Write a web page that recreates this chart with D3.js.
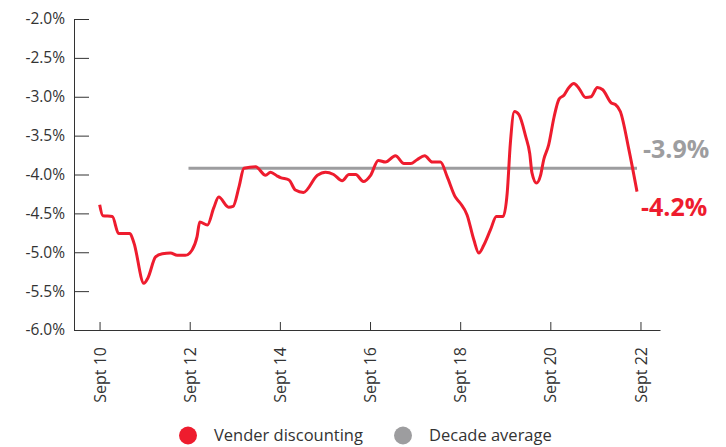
<!DOCTYPE html>
<meta charset="utf-8">
<style>
body { margin: 0; background: #fff; }
svg text { font-family: "Open Sans", sans-serif; fill: #333; }
.axis path, .axis line { stroke: #333; stroke-width: 1px; }
.line-red { fill: none; stroke: #ee1c2e; stroke-width: 3px; stroke-linejoin: round; }
.line-avg { fill: none; stroke: #9d9d9f; stroke-width: 3px; }
</style>
<body>
<script src="https://d3js.org/d3.v7.min.js"></script>
<script>

// vendor discounting, decimal year vs percent
var years = [2010.67, 2010.74, 2010.95, 2011.09, 2011.34, 2011.43, 2011.65, 2011.74, 2011.91, 2012.06,
    2012.24, 2012.39, 2012.57, 2012.72, 2012.83, 2012.89, 2013.06, 2013.20, 2013.31, 2013.53,
    2013.63, 2013.76, 2013.87, 2014.13, 2014.35, 2014.46, 2014.61, 2014.68, 2014.87, 2015.01,
    2015.19, 2015.50, 2015.68, 2015.86, 2016.05, 2016.20, 2016.35, 2016.52, 2016.68, 2016.85,
    2017.01, 2017.23, 2017.42, 2017.57, 2017.71, 2017.88, 2018.05, 2018.23, 2018.38, 2018.56,
    2018.67, 2018.82, 2018.97, 2019.08, 2019.19, 2019.34, 2019.47, 2019.62, 2019.71, 2019.78,
    2019.87, 2019.97, 2020.12, 2020.21, 2020.26, 2020.36, 2020.45, 2020.52, 2020.63, 2020.75,
    2020.86, 2020.97, 2021.08, 2021.19, 2021.30, 2021.45, 2021.57, 2021.71, 2021.83, 2022.02,
    2022.11, 2022.22, 2022.41, 2022.59];
var discount = [-4.39, -4.53, -4.54, -4.76, -4.76, -4.88, -5.40, -5.33, -5.06, -5.02,
    -5.01, -5.04, -5.04, -4.97, -4.80, -4.61, -4.65, -4.43, -4.29, -4.42,
    -4.41, -4.16, -3.92, -3.90, -4.01, -3.97, -4.02, -4.04, -4.07, -4.20,
    -4.23, -4.01, -3.97, -4.00, -4.08, -4.00, -4.00, -4.09, -4.01, -3.82,
    -3.84, -3.76, -3.86, -3.86, -3.81, -3.76, -3.84, -3.84, -4.03, -4.29,
    -4.37, -4.52, -4.84, -5.01, -4.91, -4.71, -4.54, -4.54, -4.24, -3.60,
    -3.19, -3.23, -3.51, -3.73, -3.98, -4.11, -4.01, -3.81, -3.62, -3.26,
    -3.03, -2.98, -2.88, -2.83, -2.89, -3.01, -3.00, -2.88, -2.91, -3.08,
    -3.10, -3.19, -3.68, -4.22];

var avgValue = -3.92;
var avgYears = [2012.64, 2022.59];

var xTicks = [2010.667, 2012.667, 2014.667, 2016.667, 2018.667, 2020.667, 2022.667];
var xTickLabels = ["Sept 10", "Sept 12", "Sept 14", "Sept 16", "Sept 18", "Sept 20", "Sept 22"];
var yTicks = [-2.0, -2.5, -3.0, -3.5, -4.0, -4.5, -5.0, -5.5, -6.0];

var seriesNames = ["Vender discounting", "Decade average"];
var seriesColors = ["#ee1c2e", "#9d9d9f"];
var endLabels = ["-4.2%", "-3.9%"];

var width = 726, height = 447;

var svg = d3.select("body").append("svg")
    .attr("width", width)
    .attr("height", height);

var x = d3.scaleLinear().domain([2010.1, 2023.1]).range([74, 660]);
var y = d3.scaleLinear().domain([-6, -2]).range([330, 19]);

// y axis, ticks point inward
svg.append("g")
    .attr("class", "axis")
    .attr("transform", "translate(74,0)")
    .call(d3.axisLeft(y).tickValues(yTicks)
        .tickSizeInner(-15).tickSizeOuter(0).tickPadding(9)
        .tickFormat(function(d) { return d.toFixed(1) + "%"; }))
    .call(function(g) {
        g.selectAll("text").style("font-size", "15.5px").attr("fill", "#333");
    });

// x axis
var gx = svg.append("g")
    .attr("class", "axis")
    .attr("transform", "translate(0,330)")
    .call(d3.axisBottom(x).tickValues(xTicks)
        .tickSizeInner(-8).tickSizeOuter(0)
        .tickFormat(function(d, i) { return xTickLabels[i]; }));

gx.selectAll("text")
    .attr("transform", "rotate(-90)")
    .attr("text-anchor", "end")
    .attr("x", -17)
    .attr("y", 0)
    .attr("dy", "0.35em")
    .attr("fill", "#333")
    .style("font-size", "16px");

// decade average
svg.append("path")
    .datum(avgYears)
    .attr("class", "line-avg")
    .attr("d", d3.line()
        .x(function(d) { return x(d); })
        .y(function() { return y(avgValue); }));

// vendor discounting line
var pts = years.map(function(d, i) { return [d, discount[i]]; });
svg.append("path")
    .datum(pts)
    .attr("class", "line-red")
    .attr("d", d3.line()
        .curve(d3.curveMonotoneX)
        .x(function(d) { return x(d[0]); })
        .y(function(d) { return y(d[1]); }));

// end labels
svg.append("text")
    .attr("x", 643).attr("y", 158)
    .style("font-size", "25px").style("font-weight", "bold")
    .style("fill", seriesColors[1])
    .text(endLabels[1]);

svg.append("text")
    .attr("x", 641).attr("y", 216)
    .style("font-size", "25px").style("font-weight", "bold")
    .style("fill", seriesColors[0])
    .text(endLabels[0]);

// legend
var legendX = [188, 403];
var legend = svg.selectAll(".legend")
    .data(seriesNames)
    .enter().append("g")
    .attr("class", "legend")
    .attr("transform", function(d, i) { return "translate(" + legendX[i] + ",435.5)"; });

legend.append("circle")
    .attr("r", 9)
    .style("fill", function(d, i) { return seriesColors[i]; });

legend.append("text")
    .attr("x", 26)
    .attr("dy", "0.35em")
    .style("font-size", "16.5px")
    .text(function(d) { return d; });

</script>
</body>
